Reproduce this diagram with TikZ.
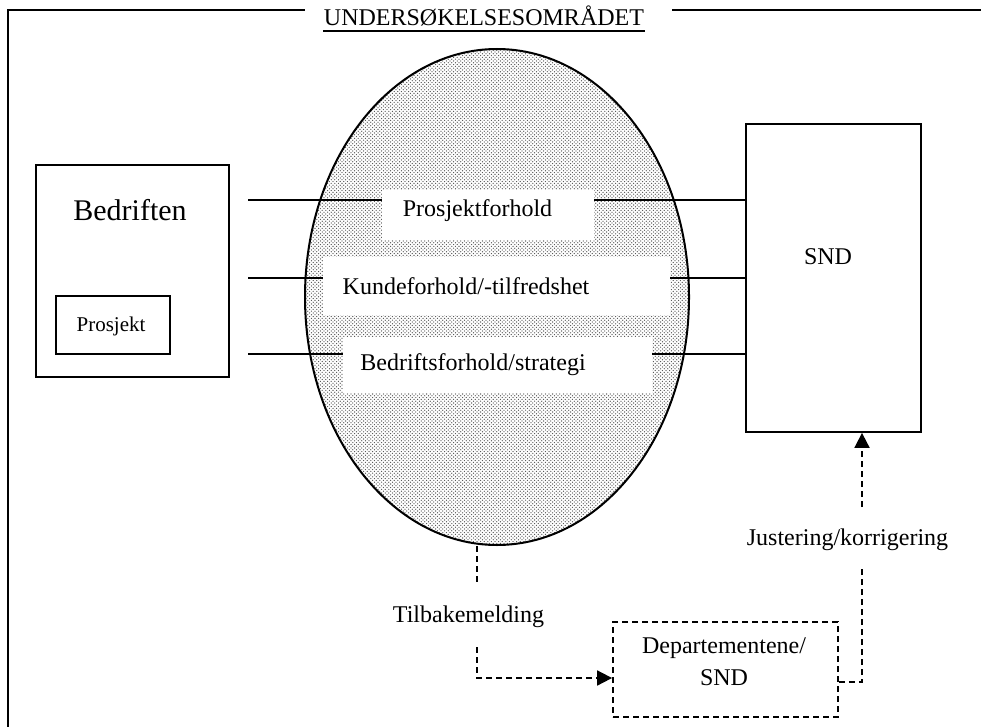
\documentclass[tikz,border=0pt]{standalone}
\usepackage{fontspec}
\setmainfont{Liberation Serif}
\usetikzlibrary{shapes.geometric,patterns,arrows.meta}
\pgfdeclarepatternformonly{refdots}{\pgfqpoint{-1pt}{-1pt}}{\pgfqpoint{4.6pt}{4.6pt}}{\pgfqpoint{3.6pt}{3.6pt}}{%
  \pgfpathcircle{\pgfqpoint{0pt}{0pt}}{.65pt}%
  \pgfpathcircle{\pgfqpoint{1.8pt}{1.8pt}}{.65pt}%
  \pgfusepath{fill}}
\begin{document}
\begin{tikzpicture}[x=1pt,y=-1pt,line width=1.8pt,
  box/.style={draw,rectangle,inner sep=0pt},
  whitebox/.style={fill=white,rectangle,inner sep=0pt},
  txt/.style={inner sep=0pt,font=\fontsize{24}{28}\selectfont},
  dl/.style={dash pattern=on 6pt off 4pt},
  tip/.style={-{Triangle[length=15pt,width=15pt]}}]
\useasboundingbox (0,0) rectangle (981,727);
% outer frame
\draw (8,727) -- (8,10) -- (305,10);
\draw (672,10) -- (985,10);
\node[txt,anchor=base] (title) at (484,26) {UNDERSØKELSESOMRÅDET};
\draw[line width=2.2pt] ([yshift=-5pt]title.base west) -- ([yshift=-5pt]title.base east);
% ellipse
\node[ellipse,draw,line width=2pt,inner sep=0pt,minimum width=384pt,minimum height=496pt,
  preaction={fill=white},pattern=refdots,pattern color=black!70] (ell) at (497,297) {};
% Bedriften
\node[box,minimum width=193pt,minimum height=212pt] (bed) at (132.5,271) {};
\node[txt,anchor=base,font=\fontsize{30}{34}\selectfont] (bedt) at (130,220.5) {Bedriften};
\node[box,minimum width=114pt,minimum height=58pt] (pro) at (113,325) {};
\node[txt,anchor=base,font=\fontsize{21}{25}\selectfont] (prot) at (111,331.5) {Prosjekt};
% SND
\node[box,minimum width=175pt,minimum height=308pt] (snd) at (833.5,278) {};
\node[txt] (sndt) at (828,257) {SND};
% connecting lines
\coordinate (l1) at (248,200);
\coordinate (l2) at (248,278);
\coordinate (l3) at (248,354);
\draw (l1) -- (l1 -| snd.west);
\draw (l2) -- (l2 -| snd.west);
\draw (l3) -- (l3 -| snd.west);
% white label boxes
\node[whitebox,minimum width=212pt,minimum height=50pt] (b1) at (488,215) {};
\node[txt,anchor=base] (b1t) at (477.5,217) {Prosjektforhold};
\node[whitebox,minimum width=347pt,minimum height=58pt] (b2) at (496.5,286) {};
\node[txt,anchor=base] (b2t) at (466,294) {Kundeforhold/-tilfredshet};
\node[whitebox,minimum width=309pt,minimum height=56pt] (b3) at (497.5,365) {};
\node[txt,anchor=base] (b3t) at (473,370) {Bedriftsforhold/strategi};
% Departementene box
\node[box,dl,minimum width=225pt,minimum height=95pt] (dep) at (725.5,669.5) {};
\node[txt,align=center,font=\fontsize{24}{32}\selectfont] (dept) at (724,662) {Departementene/\\SND};
% feedback
\node[txt,anchor=base] (tilb) at (468.5,622) {Tilbakemelding};
\coordinate (a1) at (477,583);
\coordinate (a2) at (477,647);
\coordinate (a3) at (477,678);
\draw[dl] (ell.south -| a1) -- (a1);
\draw[dl,tip] (a2) -- (a3) -- (a3 -| dep.west);
% adjustment
\node[txt,anchor=base] (just) at (847.5,545) {Justering/korrigering};
\coordinate (c1) at (862,682);
\coordinate (c2) at (862,567);
\coordinate (c3) at (862,507);
\draw[dl] (c1 -| dep.east) -- (c1) -- (c2);
\draw[dl,tip] (c3) -- (c3 |- snd.south);
\end{tikzpicture}
\end{document}
